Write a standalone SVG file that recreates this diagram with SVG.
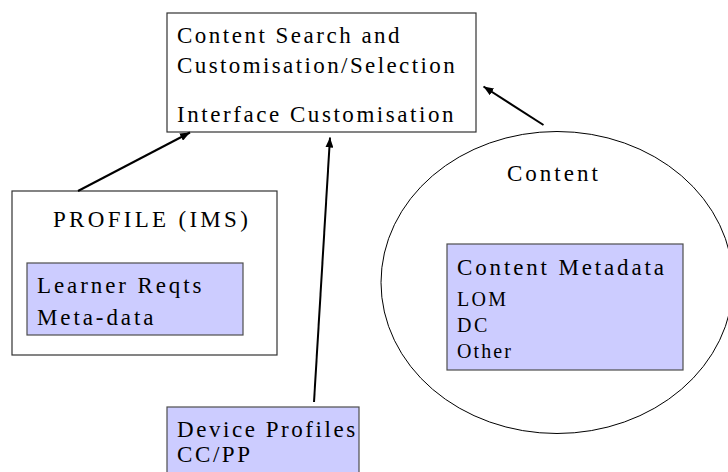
<svg xmlns="http://www.w3.org/2000/svg" width="728" height="472" viewBox="0 0 728 472">
  <defs>
    <marker id="arrow" viewBox="0 0 10 8" refX="10" refY="4" markerWidth="10" markerHeight="8" markerUnits="userSpaceOnUse" orient="auto">
      <path d="M0,0 L10,4 L0,8 z" fill="#000"/>
    </marker>
    <style>
      .box { fill: #ffffff; stroke: #333333; stroke-width: 1.2; }
      .meta { fill: #ccccff; stroke: #4d4d4d; stroke-width: 1.2; }
      .oval { fill: #ffffff; stroke: #000000; stroke-width: 1; }
      .t { font-size: 23px; }
      .s { font-size: 20px; }
      .link { stroke: #000; stroke-width: 2; fill: none; marker-end: url(#arrow); }
    </style>
  </defs>
  <rect width="728" height="472" fill="#ffffff"/>

  <g font-family="Liberation Serif, Times New Roman, serif" fill="#000">
    <!-- content collection (oval) and its metadata panel -->
    <g id="content">
      <ellipse class="oval" cx="557" cy="282.5" rx="176" ry="151"/>
      <text class="t" x="507" y="181" letter-spacing="3">Content</text>
    </g>

    <g id="content-metadata">
      <rect class="meta" x="447" y="244" width="236" height="126"/>
      <text class="t" x="457" y="275" letter-spacing="2.85">Content Metadata</text>
      <text class="s" x="457" y="306" letter-spacing="2.3">LOM</text>
      <text class="s" x="457" y="332" letter-spacing="2.6">DC</text>
      <text class="s" x="457" y="358" letter-spacing="2.1">Other</text>
    </g>

    <g id="search">
      <rect class="box" x="167" y="13" width="309" height="119"/>
      <text class="t" x="177" y="43" letter-spacing="2.5">Content Search and</text>
      <text class="t" x="177" y="73" letter-spacing="2.4">Customisation/Selection</text>
      <text class="t" x="177" y="122" letter-spacing="2.55">Interface Customisation</text>
    </g>

    <g id="profile">
      <rect class="box" x="12" y="191" width="265" height="164"/>
      <text class="t" x="53" y="227" letter-spacing="3.3">PROFILE (IMS)</text>
    </g>

    <g id="learner">
      <rect class="meta" x="27" y="263" width="216" height="72"/>
      <text class="t" x="37" y="293" letter-spacing="2.9">Learner Reqts</text>
      <text class="t" x="37" y="325" letter-spacing="2.9">Meta-data</text>
    </g>

    <g id="device">
      <rect class="meta" x="167" y="407" width="192" height="70"/>
      <text class="t" x="177" y="437" letter-spacing="2.55">Device Profiles</text>
      <text class="t" x="177" y="462" letter-spacing="2.6">CC/PP</text>
    </g>
  </g>

  <g id="connectors">
    <line class="link" x1="78" y1="191" x2="190" y2="132.5"/>
    <line class="link" x1="314" y1="402" x2="330" y2="137.5"/>
    <line class="link" x1="543.5" y1="125" x2="483.5" y2="86.5"/>
  </g>
</svg>
